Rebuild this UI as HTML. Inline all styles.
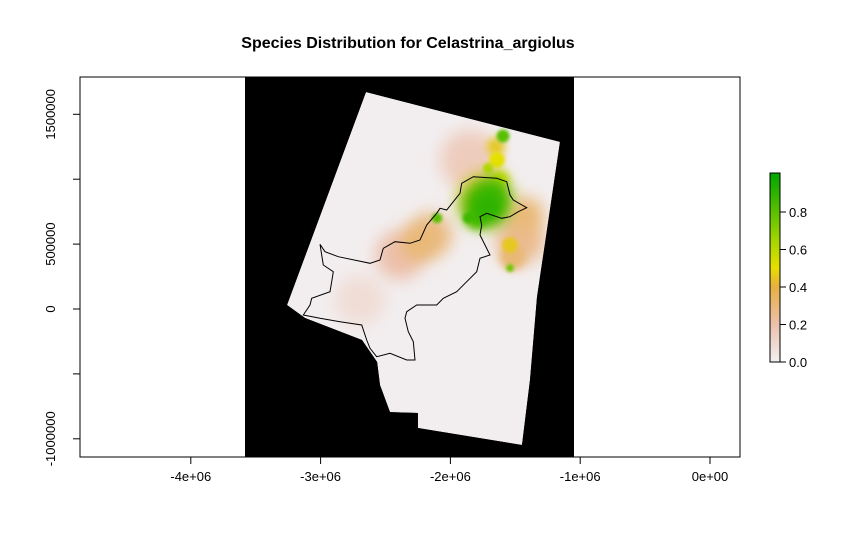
<!DOCTYPE html>
<html><head><meta charset="utf-8">
<style>
html,body{margin:0;padding:0;background:#fff;}
svg{display:block;font-family:"Liberation Sans",Arial,sans-serif;}
</style></head>
<body>
<svg id="chart" width="853" height="555" viewBox="0 0 853 555">
<defs>
  <linearGradient id="cbar" x1="0" y1="1" x2="0" y2="0">
    <stop offset="0" stop-color="#f2f0f0"/>
    <stop offset="0.2" stop-color="#ecc0ac"/>
    <stop offset="0.4" stop-color="#e6b040"/>
    <stop offset="0.5" stop-color="#e6e000"/>
    <stop offset="0.65" stop-color="#a0d400"/>
    <stop offset="0.85" stop-color="#40b800"/>
    <stop offset="1" stop-color="#00a600"/>
  </linearGradient>
  <filter id="blurL" x="-50%" y="-50%" width="200%" height="200%"><feGaussianBlur stdDeviation="8"/></filter>
  <filter id="blurM" x="-50%" y="-50%" width="200%" height="200%"><feGaussianBlur stdDeviation="4"/></filter>
  <filter id="blurS" x="-50%" y="-50%" width="200%" height="200%"><feGaussianBlur stdDeviation="1.5"/></filter>
  <clipPath id="rclip"><polygon id="rpoly"/></clipPath>
</defs>
<text x="408" y="48" text-anchor="middle" font-size="16" font-weight="bold">Species Distribution for Celastrina_argiolus</text>
<rect x="245" y="77" width="329" height="380" fill="#000"/>
<g id="raster" clip-path="url(#rclip)"></g>
<g id="outline"></g>
<rect x="80" y="77" width="660" height="380" fill="none" stroke="#000" stroke-width="1"/>
<g id="xaxis"></g>
<g id="yaxis"></g>
<g id="legend"></g>
</svg>
<script>
const xTicks=[-4e6,-3e6,-2e6,-1e6,0];
const xTickLabels=["-4e+06","-3e+06","-2e+06","-1e+06","0e+00"];
const yTicks=[-1e6,-5e5,0,5e5,1e6,1.5e6];
const yTickLabels=["-1000000","","0","500000","","1500000"];
const legendTicks=[0,0.2,0.4,0.6,0.8];
const legendLabels=["0.0","0.2","0.4","0.6","0.8"];
// raster footprint (projected coordinates)
const rasterX=[-2.65e6,-1.156e6,-1.333e6,-1.387e6,-1.448e6,-2.25e6,-2.25e6,-2.465e6,-2.542e6,-2.565e6,-2.681e6,-3.12e6,-3.259e6];
const rasterY=[1.672e6,1.287e6,0.092e6,-0.547e6,-1.048e6,-0.917e6,-0.801e6,-0.794e6,-0.586e6,-0.408e6,-0.239e6,-0.069e6,0.031e6];
// suitability hotspots: x, y, radius (m), value
const spotX=[-2.696e6,-1.849e6,-2.388e6,-2.157e6,-1.464e6,-1.425e6,-1.733e6,-1.641e6,-1.541e6,-1.757e6,-1.680e6,-1.595e6,-2.103e6,-1.864e6,-1.541e6,-1.710e6,-1.70e6,-1.80e6,-1.65e6,-1.52e6,-2.25e6,-1.62e6];
const spotY=[0.069e6,1.148e6,0.416e6,0.570e6,0.532e6,0.724e6,0.840e6,1.148e6,0.493e6,0.801e6,0.878e6,1.333e6,0.701e6,0.701e6,0.316e6,1.086e6,0.78e6,0.70e6,1.25e6,0.40e6,0.50e6,1.0e6];
const spotR=[1.9e5,2.3e5,1.9e5,1.7e5,1.9e5,1.4e5,2.0e5,0.6e5,0.6e5,1.5e5,1.3e5,0.5e5,0.4e5,0.4e5,0.3e5,0.4e5,1.2e5,0.8e5,0.7e5,1.0e5,1.3e5,0.7e5];
const spotV=[0.08,0.15,0.2,0.28,0.25,0.3,0.45,0.5,0.45,0.85,0.85,0.8,0.8,0.85,0.75,0.6,0.9,0.8,0.45,0.3,0.3,0.55];
// country outline (traced)
const outZ=[[120,478],[135,500],[175,515],[270,535],[300,525],[310,490],[345,470],[390,475],[420,465],[440,420],[470,385],[480,370],[500,375],[520,350],[540,325],[545,295],[580,275],[650,280],[680,290],[690,330],[700,345],[740,368],[715,380],[690,395],[665,400],[620,385],[600,395],[605,420],[600,450],[630,510],[600,520],[590,560],[560,590],[530,620],[490,640],[470,660],[410,660],[380,680],[375,700],[385,740],[400,770],[405,825],[380,825],[330,805],[290,815],[270,790],[260,765],[245,720],[180,710],[120,700],[70,690],[90,660],[95,640],[150,620],[155,590],[160,560],[130,540],[120,478]];

const X=v=>710+v*129.8e-6;
const Y=v=>309-v*129.8e-6;
const LY=v=>362-v*187.5;
const NS="http://www.w3.org/2000/svg";
function mk(t,a,p){const e=document.createElementNS(NS,t);for(const k in a)e.setAttribute(k,a[k]);p.appendChild(e);return e;}
function col(v){
  const st=[[0,[242,240,240]],[0.2,[236,192,172]],[0.4,[230,176,64]],[0.5,[230,224,0]],[0.65,[160,212,0]],[0.85,[64,184,0]],[1,[0,166,0]]];
  for(let i=1;i<st.length;i++){if(v<=st[i][0]){const a=st[i-1],b=st[i],t=(v-a[0])/(b[0]-a[0]);return 'rgb('+a[1].map((c,j)=>Math.round(c+(b[1][j]-c)*t)).join(',')+')';}}
  return 'rgb(0,166,0)';
}
const pts=rasterX.map((x,i)=>X(x).toFixed(1)+','+Y(rasterY[i]).toFixed(1)).join(' ');
document.getElementById('rpoly').setAttribute('points',pts);
const rg=document.getElementById('raster');
const bg=mk('polygon',{points:pts,fill:'#f2eeef'},rg);


const order=spotV.map((v,i)=>i).sort((a,b)=>spotV[a]-spotV[b]);
order.forEach(i=>{
  const r=spotR[i]*129.8e-6;
  const f=r>15?'url(#blurL)':(r>8?'url(#blurM)':'url(#blurS)');
  const c=mk('circle',{cx:X(spotX[i]),cy:Y(spotY[i]),r:r,fill:col(spotV[i]),filter:f},rg);
  
  
});
const op=outZ.map(p=>(p[0]/3+280).toFixed(1)+','+(p[1]/3+85).toFixed(1)).join(' ');
const ol=mk('polyline',{points:op,fill:'none',stroke:'#000','stroke-width':1},document.getElementById('outline'));


const xa=document.getElementById('xaxis');
mk('line',{x1:X(xTicks[0]),x2:X(xTicks[xTicks.length-1]),y1:457,y2:457,stroke:'#000'},xa);
xTicks.forEach((v,i)=>{
  mk('line',{x1:X(v),x2:X(v),y1:457,y2:464,stroke:'#000'},xa);
  const t=mk('text',{x:X(v),y:481,'text-anchor':'middle','font-size':13},xa);t.textContent=xTickLabels[i];
  
  
});
const ya=document.getElementById('yaxis');
mk('line',{x1:80,x2:80,y1:Y(yTicks[0]),y2:Y(yTicks[yTicks.length-1]),stroke:'#000'},ya);
yTicks.forEach((v,i)=>{
  mk('line',{x1:73,x2:80,y1:Y(v),y2:Y(v),stroke:'#000'},ya);
  if(yTickLabels[i]){
    const t=mk('text',{x:0,y:0,'text-anchor':'middle','font-size':13,transform:'translate(55,'+Y(v)+') rotate(-90)'},ya);t.textContent=yTickLabels[i];
    
    
  }
});
const lg=document.getElementById('legend');
mk('rect',{x:770,y:173,width:10,height:189,fill:'url(#cbar)',stroke:'#000','stroke-width':1},lg);
legendTicks.forEach((v,i)=>{
  mk('line',{x1:780,x2:786,y1:LY(v),y2:LY(v),stroke:'#000'},lg);
  const t=mk('text',{x:789,y:LY(v)+5,'font-size':13},lg);t.textContent=legendLabels[i];
  
  
});
</script>
</body></html>
